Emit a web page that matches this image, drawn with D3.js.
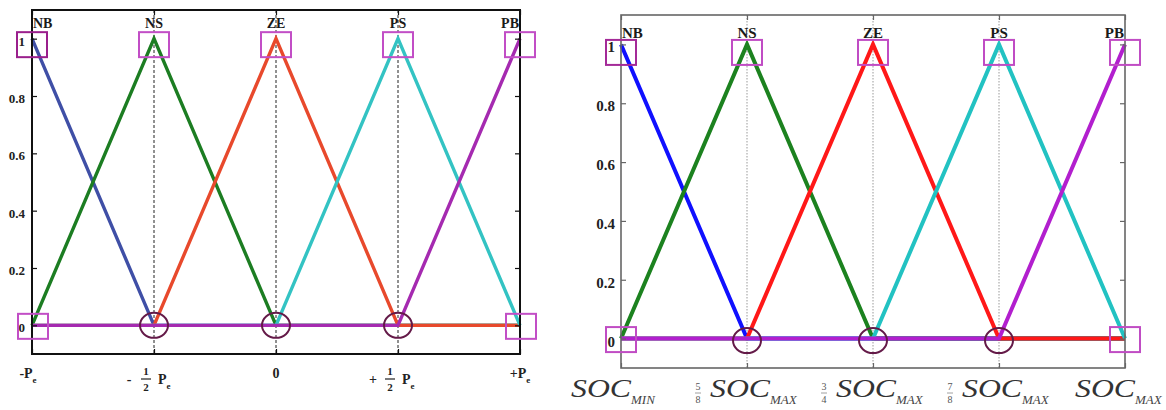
<!DOCTYPE html>
<html>
<head>
<meta charset="utf-8">
<script src="https://cdn.jsdelivr.net/npm/d3@7/dist/d3.min.js"></script>
<style>
  html, body { margin: 0; padding: 0; background: #fff; }
  svg { display: block; }
</style>
</head>
<body>
<svg id="chart" width="1166" height="410"></svg>
<script>
// Breakpoints of the normalised universe of discourse and the five fuzzy sets
const breakpoints = [-1, -0.5, 0, 0.5, 1];
const setNames = ["NB", "NS", "ZE", "PS", "PB"];

// Membership degree of each set at the breakpoints (triangular sets)
const muNB = [1, 0, 0, 0, 0];
const muNS = [0, 1, 0, 0, 0];
const muZE = [0, 0, 1, 0, 0];
const muPS = [0, 0, 0, 1, 0];
const muPB = [0, 0, 0, 0, 1];
const memberships = [muNB, muNS, muZE, muPS, muPB];

// Membership axis
const yTicks = [0, 0.2, 0.4, 0.6, 0.8, 1];
const yTickLabels = ["0", "0.2", "0.4", "0.6", "0.8", "1"];

// Highlighted points: set peaks, end points at zero, interior zero crossings
const peakValue = 1;
const edgeZeroPoints = [-1, 1];
const crossingPoints = [-0.5, 0, 0.5];

// Power axis labels: sign, optional fraction, symbol, subscript
const powerSign = ["-", "-", "", "+", "+"];
const powerFrac = [null, ["1", "2"], null, ["1", "2"], null];
const powerBase = ["P", "P", "0", "P", "P"];
const powerSub = ["e", "e", "", "e", "e"];

// State-of-charge axis labels: optional fraction, symbol, subscript
const socFrac = [null, ["5", "8"], ["3", "4"], ["7", "8"], null];
const socBase = ["SOC", "SOC", "SOC", "SOC", "SOC"];
const socSub = ["MIN", "MAX", "MAX", "MAX", "MAX"];

const svg = d3.select("#chart");
const serif = "'Liberation Serif', 'Times New Roman', serif";

const panels = [
  {
    name: "power",
    left: 32, right: 520, top: 10, bottom: 354,
    colors: ["#3f4fa6", "#1c7d22", "#e8492c", "#33c3c3", "#a52ab0"],
    lineWidth: 3.4,
    frameColor: "#111", frameWidth: 2,
    guide: { color: "#222", dash: "3,2", width: 1 },
    boxColor: "#c24ec6", boxFirstColor: "#9a1f8c",
    circleColor: "#641a48",
    topFont: 14, topBaseline: 18,
    yFont: 13, yPad: 7,
    topBoxDy: 6, bottomBoxDx: 1
  },
  {
    name: "soc",
    left: 621, right: 1125, top: 15, bottom: 368,
    colors: ["#1010ff", "#1c821f", "#ff1818", "#22c2c2", "#b21fce"],
    lineWidth: 4,
    frameColor: "#666", frameWidth: 1.6,
    guide: { color: "#999", dash: "1.5,1.5", width: 1 },
    boxColor: "#c04cc4", boxFirstColor: "#a42a98",
    circleColor: "#641a48",
    topFont: 15, topBaseline: 23,
    yFont: 15, yPad: 6,
    topBoxDy: 8, bottomBoxDx: 0
  }
];

panels.forEach(p => {
  const x = d3.scaleLinear().domain([-1, 1]).range([p.left, p.right]);
  const y = d3.scaleLinear().domain([-0.1, 1.1]).range([p.bottom, p.top]);
  const g = svg.append("g").attr("class", p.name);

  // vertical guides at the interior breakpoints
  g.selectAll("line.guide")
    .data(breakpoints.slice(1, -1))
    .join("line")
    .attr("class", "guide")
    .attr("x1", d => x(d)).attr("x2", d => x(d))
    .attr("y1", p.top).attr("y2", p.bottom)
    .attr("stroke", p.guide.color)
    .attr("stroke-width", p.guide.width)
    .attr("stroke-dasharray", p.guide.dash);

  // membership functions, drawn NB -> PB
  const line = d3.line().x((d, i) => x(breakpoints[i])).y(d => y(d));
  g.selectAll("path.mf")
    .data(memberships)
    .join("path")
    .attr("class", "mf")
    .attr("d", d => line(d))
    .attr("fill", "none")
    .attr("stroke", (d, i) => p.colors[i])
    .attr("stroke-width", p.lineWidth)
    .attr("stroke-linejoin", "miter");

  // frame
  g.append("rect")
    .attr("x", p.left).attr("y", p.top)
    .attr("width", p.right - p.left).attr("height", p.bottom - p.top)
    .attr("fill", "none")
    .attr("stroke", p.frameColor)
    .attr("stroke-width", p.frameWidth);

  // axes with inward ticks
  const yAxis = d3.axisLeft(y).tickValues(yTicks)
    .tickFormat((d, i) => yTickLabels[i])
    .tickSizeInner(-5).tickSizeOuter(0).tickPadding(p.yPad);
  const ga = g.append("g").attr("transform", `translate(${p.left},0)`).call(yAxis);
  ga.select(".domain").remove();
  ga.selectAll("line").attr("stroke", p.frameColor).attr("stroke-width", 1.2);
  ga.selectAll("text")
    .attr("font-family", serif).attr("font-weight", "bold")
    .attr("font-size", p.yFont).attr("fill", "#222")
    .attr("dy", "0.5em");

  const yAxisR = d3.axisRight(y).tickValues(yTicks).tickFormat("")
    .tickSizeInner(-5).tickSizeOuter(0);
  const gr = g.append("g").attr("transform", `translate(${p.right},0)`).call(yAxisR);
  gr.select(".domain").remove();
  gr.selectAll("line").attr("stroke", p.frameColor).attr("stroke-width", 1.2);

  const xAxisT = d3.axisTop(x).tickValues(breakpoints).tickFormat("")
    .tickSizeInner(-5).tickSizeOuter(0);
  const gt = g.append("g").attr("transform", `translate(0,${p.top})`).call(xAxisT);
  gt.select(".domain").remove();
  gt.selectAll("line").attr("stroke", p.frameColor).attr("stroke-width", 1.2);

  const xAxisB = d3.axisBottom(x).tickValues(breakpoints).tickFormat("")
    .tickSizeInner(-5).tickSizeOuter(0);
  const gb = g.append("g").attr("transform", `translate(0,${p.bottom})`).call(xAxisB);
  gb.select(".domain").remove();
  gb.selectAll("line").attr("stroke", p.frameColor).attr("stroke-width", 1.2);

  // set names along the top
  g.selectAll("text.setname")
    .data(setNames)
    .join("text")
    .attr("class", "setname")
    .attr("x", (d, i) => i === 0 ? x(breakpoints[i]) + 1 : i === setNames.length - 1 ? x(breakpoints[i]) - 1 : x(breakpoints[i]))
    .attr("y", p.top + p.topBaseline)
    .attr("text-anchor", (d, i) => i === 0 ? "start" : i === setNames.length - 1 ? "end" : "middle")
    .attr("font-family", serif).attr("font-weight", "bold")
    .attr("font-size", p.topFont).attr("fill", "#1a1a1a")
    .text(d => d);

  // boxes around the peaks
  const bw = 30, bh = 25;
  g.selectAll("rect.peak")
    .data(breakpoints)
    .join("rect")
    .attr("class", "peak")
    .attr("x", d => x(d) - bw / 2)
    .attr("y", y(peakValue) + p.topBoxDy - bh / 2)
    .attr("width", bw).attr("height", bh)
    .attr("fill", "none")
    .attr("stroke", (d, i) => i === 0 ? p.boxFirstColor : p.boxColor)
    .attr("stroke-width", 2);

  // boxes at the zero end points
  g.selectAll("rect.edge")
    .data(edgeZeroPoints)
    .join("rect")
    .attr("class", "edge")
    .attr("x", d => x(d) - bw / 2 + p.bottomBoxDx)
    .attr("y", y(0) - bh / 2 + 1)
    .attr("width", bw).attr("height", bh)
    .attr("fill", "none")
    .attr("stroke", p.boxColor)
    .attr("stroke-width", 2);

  // circles at the interior zero crossings
  g.selectAll("ellipse.cross")
    .data(crossingPoints)
    .join("ellipse")
    .attr("class", "cross")
    .attr("cx", d => x(d))
    .attr("cy", y(0) + (p.name === "soc" ? 2 : 0))
    .attr("rx", 14).attr("ry", 12.5)
    .attr("fill", "none")
    .attr("stroke", p.circleColor)
    .attr("stroke-width", 2);

  // bottom category labels
  const labels = g.selectAll("g.xlabel")
    .data(breakpoints)
    .join("g")
    .attr("class", "xlabel")
    .attr("transform", d => `translate(${x(d)},0)`);

  if (p.name === "power") {
    labels.each(function (d, i) {
      const lg = d3.select(this);
      const frac = powerFrac[i];
      const base = { "font-family": serif, "font-weight": "bold", fill: "#222" };
      if (!frac) {
        const t = lg.append("text")
          .attr("x", i === 0 ? -4 : 0).attr("y", 378)
          .attr("text-anchor", "middle")
          .attr("font-family", base["font-family"]).attr("font-weight", "bold")
          .attr("font-size", 14).attr("fill", base.fill);
        t.append("tspan").text(powerSign[i] + powerBase[i]);
        if (powerSub[i]) t.append("tspan").attr("font-size", 9).attr("dy", 5).text(powerSub[i]);
      } else {
        lg.append("text").attr("x", -25).attr("y", 384)
          .attr("text-anchor", "middle")
          .attr("font-family", serif).attr("font-weight", "bold")
          .attr("font-size", 14).attr("fill", base.fill)
          .text(powerSign[i]);
        lg.append("text").attr("x", -8).attr("y", 375)
          .attr("text-anchor", "middle")
          .attr("font-family", serif).attr("font-weight", "bold")
          .attr("font-size", 11).attr("fill", base.fill)
          .text(frac[0]);
        lg.append("line").attr("x1", -13).attr("x2", -3)
          .attr("y1", 379).attr("y2", 379)
          .attr("stroke", base.fill).attr("stroke-width", 1.2);
        lg.append("text").attr("x", -8).attr("y", 391)
          .attr("text-anchor", "middle")
          .attr("font-family", serif).attr("font-weight", "bold")
          .attr("font-size", 11).attr("fill", base.fill)
          .text(frac[1]);
        const t = lg.append("text").attr("x", 4).attr("y", 384)
          .attr("font-family", serif).attr("font-weight", "bold")
          .attr("font-size", 14).attr("fill", base.fill);
        t.append("tspan").text(powerBase[i]);
        t.append("tspan").attr("font-size", 9).attr("dy", 5).text(powerSub[i]);
      }
    });
  } else {
    labels.each(function (d, i) {
      const lg = d3.select(this);
      const frac = socFrac[i];
      const start = frac ? -37 : -50;
      const socW = 60;
      if (frac) {
        lg.append("text").attr("x", -49).attr("y", 390)
          .attr("text-anchor", "middle")
          .attr("font-family", serif).attr("font-size", 10).attr("fill", "#555")
          .text(frac[0]);
        lg.append("line").attr("x1", -52).attr("x2", -46)
          .attr("y1", 393).attr("y2", 393)
          .attr("stroke", "#888").attr("stroke-width", 0.8);
        lg.append("text").attr("x", -49).attr("y", 403)
          .attr("text-anchor", "middle")
          .attr("font-family", serif).attr("font-size", 10).attr("fill", "#555")
          .text(frac[1]);
      }
      lg.append("text").attr("x", start).attr("y", 397)
        .attr("font-family", serif).attr("font-style", "italic")
        .attr("font-size", 26).attr("fill", "#333")
        .attr("textLength", socW).attr("lengthAdjust", "spacingAndGlyphs")
        .text(socBase[i]);
      lg.append("text").attr("x", start + socW).attr("y", 404)
        .attr("font-family", serif).attr("font-style", "italic")
        .attr("font-size", 13).attr("fill", "#444")
        .text(socSub[i]);
    });
  }
});
</script>
</body>
</html>
